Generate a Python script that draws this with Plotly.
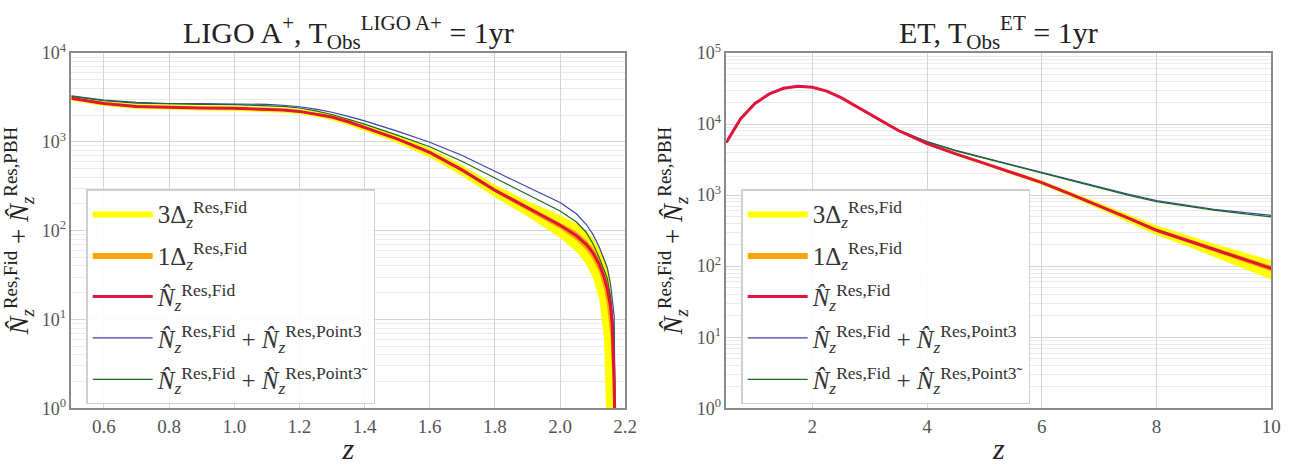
import plotly.graph_objects as go

# ---------------- LIGO A+ panel data ----------------
z_ligo = [0.5, 0.55, 0.6, 0.7, 0.8, 0.9, 1.0, 1.1, 1.15, 1.2, 1.25, 1.3, 1.35, 1.4, 1.5, 1.6, 1.7,
          1.8, 1.9, 2.0, 2.05, 2.08, 2.1, 2.12, 2.135, 2.145, 2.155, 2.16, 2.166, 2.17]
ligo_fid = [3100, 2880, 2700, 2500, 2430, 2400, 2380, 2330, 2280, 2200, 2060, 1900, 1680, 1450, 1080,
            760, 480, 285, 180, 115, 88, 70, 57, 42, 30, 22, 14, 8.5, 2.0, 0.3]
ligo_up3 = [3300, 3070, 2875, 2660, 2590, 2555, 2535, 2480, 2430, 2345, 2210, 2050, 1820, 1580, 1190,
            850, 545, 328, 216, 150, 120, 99, 83, 65, 51, 41, 28, 19, 8, 0.3]
ligo_lo3 = [2900, 2690, 2525, 2340, 2270, 2245, 2225, 2180, 2130, 2055, 1915, 1750, 1540, 1320, 970,
            670, 413, 237, 144, 83, 58, 42, 30, 17, 6, 0.3, 0.3, 0.3, 0.3, 0.3]
ligo_up1 = [3170, 2945, 2760, 2555, 2485, 2455, 2435, 2380, 2330, 2250, 2115, 1950, 1730, 1495, 1115,
            790, 500, 300, 192, 125, 98, 78, 65, 49, 36, 27.5, 19, 12.8, 4, 0.3]
ligo_lo1 = [3030, 2815, 2640, 2445, 2375, 2345, 2325, 2280, 2230, 2150, 2015, 1850, 1635, 1405, 1045,
            730, 460, 271, 168, 105, 78, 61, 48, 34, 22, 13.6, 6.3, 2.5, 0.3, 0.3]
ligo_p3 = [3300, 3100, 2950, 2780, 2700, 2690, 2680, 2640, 2580, 2480, 2330, 2150, 1930, 1720, 1320,
           990, 700, 470, 310, 207, 155, 118, 92, 66, 48, 38, 25, 18, 11, 0.3]
ligo_p3t = [3250, 3050, 2900, 2720, 2650, 2630, 2620, 2570, 2500, 2400, 2230, 2030, 1800, 1580, 1190,
            880, 600, 390, 255, 166, 125, 96, 72, 50, 36, 29, 18, 12, 7, 0.3]

# ---------------- ET panel data ----------------
z_et = [0.5, 0.75, 1.0, 1.25, 1.5, 1.75, 2.0, 2.25, 2.5, 2.75, 3.0, 3.25, 3.5, 4.0, 4.5, 5.0, 5.5,
        6.0, 6.5, 7.0, 7.5, 8.0, 8.5, 9.0, 9.5, 10.0]
et_fid = [5500, 11900, 19500, 26500, 31800, 34000, 33000, 29000, 23500, 18000, 13500, 10300, 8100,
          5300, 3800, 2800, 2050, 1500, 1030, 710, 480, 320, 235, 170, 125, 93]
et_up3 = [5665, 12260, 20085, 27300, 32750, 35020, 33990, 29870, 24200, 18540, 13970, 10680, 8420,
          5540, 3990, 2955, 2180, 1605, 1115, 780, 545, 375, 280, 207, 158, 121]
et_lo3 = [5335, 11540, 18915, 25700, 30850, 32980, 32010, 28130, 22800, 17460, 13030, 9920, 7780,
          5060, 3610, 2645, 1930, 1395, 945, 640, 420, 272, 195, 136, 95, 65]
et_up1 = [5555, 12020, 19695, 26765, 32120, 34340, 33330, 29290, 23735, 18180, 13660, 10425, 8210,
          5380, 3865, 2850, 2090, 1535, 1058, 733, 500, 338, 250, 182, 135, 101]
et_lo1 = [5445, 11780, 19305, 26235, 31480, 33660, 32670, 28710, 23265, 17820, 13340, 10175, 7990,
          5220, 3735, 2750, 2010, 1465, 1002, 687, 459, 302, 220, 158, 115, 85]
et_p3 = [5530, 11960, 19600, 26630, 31960, 34170, 33170, 29150, 23620, 18090, 13570, 10400, 8250,
         5650, 4250, 3350, 2640, 2080, 1630, 1280, 1030, 835, 720, 630, 570, 520]
et_p3t = [5520, 11940, 19570, 26600, 31920, 34130, 33130, 29110, 23590, 18070, 13550, 10380, 8200,
          5600, 4200, 3300, 2600, 2050, 1600, 1250, 1000, 811, 700, 614, 550, 495]

# ---------------- styling ----------------
YELLOW = "#ffff00"
ORANGE = "#ffa500"
RED = "#e0143c"
BLUE = "#3a46a8"
GREEN = "#1b6b1b"
SERIF = "Liberation Serif, DejaVu Serif, serif"

lbl_3d = "3Δ<sub><i>z</i></sub><sup>Res,Fid</sup>"
lbl_1d = "1Δ<sub><i>z</i></sub><sup>Res,Fid</sup>"
lbl_fid = "<i>N̂</i><sub><i>z</i></sub><sup>Res,Fid</sup>"
lbl_p3 = "<i>N̂</i><sub><i>z</i></sub><sup>Res,Fid</sup> + <i>N̂</i><sub><i>z</i></sub><sup>Res,Point3</sup>"
lbl_p3t = "<i>N̂</i><sub><i>z</i></sub><sup>Res,Fid</sup> + <i>N̂</i><sub><i>z</i></sub><sup>Res,Point3̃</sup>"

fig = go.Figure()


def add_panel(z, fid, up3, lo3, up1, lo1, p3, p3t, xa, ya, leg):
    fig.add_trace(go.Scatter(x=z, y=lo3, mode="lines", line=dict(width=0, color=YELLOW),
                             showlegend=False, hoverinfo="skip", legendgroup=leg + "a",
                             xaxis=xa, yaxis=ya))
    fig.add_trace(go.Scatter(x=z, y=up3, mode="lines", line=dict(width=0, color=YELLOW),
                             fill="tonexty", fillcolor=YELLOW, name=lbl_3d, legend=leg,
                             legendgroup=leg + "a", legendrank=1, xaxis=xa, yaxis=ya))
    fig.add_trace(go.Scatter(x=z, y=lo1, mode="lines", line=dict(width=0, color=ORANGE),
                             showlegend=False, hoverinfo="skip", legendgroup=leg + "b",
                             xaxis=xa, yaxis=ya))
    fig.add_trace(go.Scatter(x=z, y=up1, mode="lines", line=dict(width=0, color=ORANGE),
                             fill="tonexty", fillcolor=ORANGE, name=lbl_1d, legend=leg,
                             legendgroup=leg + "b", legendrank=2, xaxis=xa, yaxis=ya))
    fig.add_trace(go.Scatter(x=z, y=p3, mode="lines", line=dict(width=1.2, color=BLUE),
                             name=lbl_p3, legend=leg, legendgroup=leg + "d", legendrank=4,
                             xaxis=xa, yaxis=ya))
    fig.add_trace(go.Scatter(x=z, y=p3t, mode="lines", line=dict(width=1.2, color=GREEN),
                             name=lbl_p3t, legend=leg, legendgroup=leg + "e", legendrank=5,
                             xaxis=xa, yaxis=ya))
    fig.add_trace(go.Scatter(x=z, y=fid, mode="lines", line=dict(width=3, color=RED),
                             name=lbl_fid, legend=leg, legendgroup=leg + "c", legendrank=3,
                             xaxis=xa, yaxis=ya))


add_panel(z_ligo, ligo_fid, ligo_up3, ligo_lo3, ligo_up1, ligo_lo1, ligo_p3, ligo_p3t, "x", "y", "legend")
add_panel(z_et, et_fid, et_up3, et_lo3, et_up1, et_lo1, et_p3, et_p3t, "x2", "y2", "legend2")

W, H = 1314, 465
x1d = [72 / W, 631 / W]
x2d = [733 / W, 1283 / W]
yd = [1 - 416 / H, 1 - 43 / H]

minor_vals = [m * 10 ** k for k in range(0, 5) for m in range(2, 10)]


def yax(maxexp, anchor):
    return dict(type="log", range=[0, maxexp], domain=yd, anchor=anchor,
                tickvals=[10 ** k for k in range(maxexp + 1)],
                ticktext=["10<sup>%d</sup>" % k for k in range(maxexp + 1)],
                tickfont=dict(family=SERIF, size=18, color="#555"),
                showgrid=True, gridcolor="#d4d4d4", gridwidth=1,
                minor=dict(tickvals=minor_vals, showgrid=True, gridcolor="#ebebeb", ticks=""),
                showline=True, linecolor="#8a8a8a", linewidth=1.5, mirror=True, ticks="",
                zeroline=False,
                title=dict(text="<i>N̂</i><sub><i>z</i></sub><sup>Res,Fid</sup> + "
                                "<i>N̂</i><sub><i>z</i></sub><sup>Res,PBH</sup>",
                           font=dict(family=SERIF, size=27, color="#222"), standoff=6))


def xax(rng, vals, texts, dom, anchor):
    return dict(range=rng, domain=dom, anchor=anchor, tickvals=vals, ticktext=texts,
                tickfont=dict(family=SERIF, size=19, color="#555"),
                showgrid=True, gridcolor="#d4d4d4", gridwidth=1,
                showline=True, linecolor="#8a8a8a", linewidth=1.5, mirror=True, ticks="",
                zeroline=False,
                title=dict(text="<i>z</i>", font=dict(family=SERIF, size=30, color="#222"),
                           standoff=4))


ligo_ticks = [0.6, 0.8, 1.0, 1.2, 1.4, 1.6, 1.8, 2.0, 2.2]
et_ticks = [2, 4, 6, 8, 10]

legend_style = dict(bgcolor="rgba(255,255,255,0.9)", bordercolor="#cfcfcf", borderwidth=1.5,
                    font=dict(family=SERIF, size=25, color="#333"), xanchor="left", yanchor="top",
                    tracegroupgap=6, itemwidth=60, traceorder="grouped")

fig.update_layout(
    width=W, height=H, margin=dict(l=0, r=0, t=0, b=0),
    paper_bgcolor="white", plot_bgcolor="white",
    xaxis=xax([0.5, 2.2], ligo_ticks, ["%.1f" % v for v in ligo_ticks], x1d, "y"),
    yaxis=yax(4, "x"),
    xaxis2=xax([0.5, 10], et_ticks, [str(v) for v in et_ticks], x2d, "y2"),
    yaxis2=yax(5, "x2"),
    legend=dict(x=87 / W, y=1 - 186 / H, **legend_style),
    legend2=dict(x=748 / W, y=1 - 186 / H, **legend_style),
    annotations=[
        dict(text="LIGO A<sup>+</sup>, T<sub>Obs</sub><sup>LIGO A+</sup> = 1yr", xref="paper",
             yref="paper", x=sum(x1d) / 2, y=1 - 21 / H, showarrow=False,
             font=dict(family=SERIF, size=30, color="#222"), xanchor="center", yanchor="middle"),
        dict(text="ET, T<sub>Obs</sub><sup>ET</sup> = 1yr", xref="paper", yref="paper",
             x=sum(x2d) / 2, y=1 - 21 / H, showarrow=False,
             font=dict(family=SERIF, size=30, color="#222"), xanchor="center", yanchor="middle"),
    ],
)

fig.write_html("out.html")
